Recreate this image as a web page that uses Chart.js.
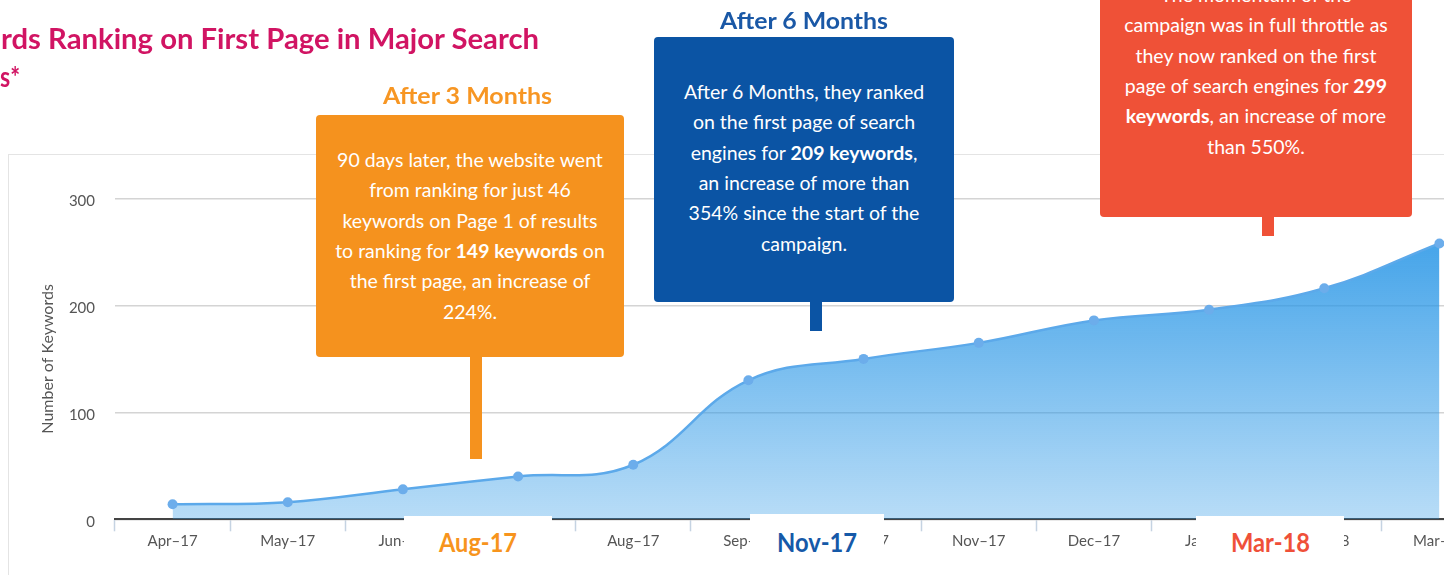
<!DOCTYPE html>
<html>
<head>
<meta charset="utf-8">
<script src="https://cdn.jsdelivr.net/npm/chart.js@4.4.1/dist/chart.umd.min.js"></script>
<style>
  html, body { margin: 0; padding: 0; background: #fff; }
  body { width: 1444px; height: 575px; overflow: hidden; position: relative; font-family: Lato, 'Open Sans', sans-serif; }
  .panel { position: absolute; left: 8px; top: 154px; width: 1600px; height: 600px; border: 1.5px solid #e4e4e4; box-sizing: border-box; }
  .wrap { position: absolute; left: 0; top: 0; width: 1502px; height: 575px; }
  .fit { position: absolute; white-space: nowrap; font-weight: 700; line-height: 1.2; transform-origin: 0 0; }
  .title { color: #d11463; font-size: 28px; }
  .head { font-size: 23px; }
  .box { position: absolute; color: #fff; font-size: 19.5px; line-height: 30.4px; text-align: center; border-radius: 4px; box-sizing: border-box; white-space: nowrap; }
  .box b { font-weight: 700; }
  .stem { position: absolute; width: 12px; }
  .tag { position: absolute; background: #fff; height: 80px; }
  .lbl { font-size: 26px; }
</style>
</head>
<body>
<div class="panel"></div>
<div class="wrap"><canvas id="chart"></canvas></div>

<div class="fit title" style="top:22.4px" data-x1="1" data-x2="539">rds Ranking on First Page in Major Search</div>
<div class="fit title" style="top:60.4px" data-x1="0" data-x2="20">s*</div>

<!-- after 3 months -->
<div class="fit head" style="top:82.3px;color:#f79623" data-x1="383" data-x2="552">After 3 Months</div>
<div class="box" style="left:316px;top:115px;width:308px;height:242px;background:#f5921e;padding-top:29.8px">
  90 days later, the website went<br>from ranking for just 46<br>keywords on Page 1 of results<br>to ranking for <b>149 keywords</b> on<br>the first page, an increase of<br>224%.
</div>
<div class="stem" style="left:470px;top:357px;height:102px;background:#f5921e"></div>

<!-- after 6 months -->
<div class="fit head" style="top:6.8px;color:#1a58a6" data-x1="720" data-x2="888">After 6 Months</div>
<div class="box" style="left:654px;top:37px;width:300px;height:265px;background:#0b54a4;padding-top:39.8px">
  After 6 Months, they ranked<br>on the first page of search<br>engines for <b>209 keywords</b>,<br>an increase of more than<br>354% since the start of the<br>campaign.
</div>
<div class="stem" style="left:810px;top:302px;height:29px;background:#0b54a4"></div>

<!-- later -->
<div class="box" style="left:1100px;top:-40px;width:312px;height:257px;background:#ef5137;padding-top:19.8px">
  The momentum of the<br>campaign was in full throttle as<br>they now ranked on the first<br>page of search engines for <b>299</b><br><b>keywords</b>, an increase of more<br>than 550%.
</div>
<div class="stem" style="left:1262px;top:217px;height:19px;background:#ef5137"></div>

<!-- bottom tags -->
<div class="tag" style="left:404px;top:516px;width:148px"></div>
<div class="tag" style="left:750px;top:514px;width:134px"></div>
<div class="tag" style="left:1196px;top:516px;width:148px"></div>
<div class="fit lbl" style="top:527.3px;color:#f7941d" data-x1="439" data-x2="517">Aug-17</div>
<div class="fit lbl" style="top:527.3px;color:#1559a8" data-x1="777" data-x2="857">Nov-17</div>
<div class="fit lbl" style="top:527.3px;color:#ef5039" data-x1="1231" data-x2="1310">Mar-18</div>

<script>
const months = ['Apr–17', 'May–17', 'Jun–17', 'Jul–17', 'Aug–17', 'Sep–17',
                'Oct–17', 'Nov–17', 'Dec–17', 'Jan–18', 'Feb–18', 'Mar–18'];
const keywords = [14, 16, 28, 40, 51, 130, 150, 165, 186, 196, 216, 258];
const yMin = 0;
const yMax = 300;
const yStep = 100;

// squeeze the headline texts to the widths seen in the picture
function fitText() {
  document.querySelectorAll('[data-x1]').forEach(el => {
    const x1 = +el.dataset.x1, x2 = +el.dataset.x2;
    el.style.left = x1 + 'px';
    const w = el.getBoundingClientRect().width;
    el.style.transform = 'scaleX(' + ((x2 - x1) / w) + ')';
  });
}
fitText();

const font = { family: 'Lato', size: 15 };

new Chart(document.getElementById('chart').getContext('2d'), {
  type: 'line',
  data: {
    labels: months,
    datasets: [{
      data: keywords,
      fill: 'origin',
      tension: 0.4,
      borderColor: '#5ca9ea',
      borderWidth: 2.5,
      pointRadius: 5,
      pointBackgroundColor: '#6cadeb',
      pointBorderWidth: 0,
      backgroundColor: (c) => {
        const area = c.chart.chartArea;
        if (!area) return 'rgba(40,150,230,0.5)';
        const g = c.chart.ctx.createLinearGradient(0, area.top, 0, area.bottom);
        g.addColorStop(0, 'rgba(40,150,230,0.95)');
        g.addColorStop(1, 'rgba(40,150,230,0.33)');
        return g;
      }
    }]
  },
  options: {
    responsive: true,
    maintainAspectRatio: false,
    animation: false,
    layout: { padding: { top: 198.5, right: 1, left: 0, bottom: 0 } },
    plugins: { legend: { display: false }, tooltip: { enabled: false } },
    scales: {
      x: {
        offset: true,
        grid: { offset: true, drawOnChartArea: false, tickLength: 12, tickColor: '#c5d3e2', tickWidth: 1.5 },
        border: { color: '#444', width: 2 },
        ticks: { color: '#555', font: font, padding: 1, maxRotation: 0, autoSkip: false },
        afterFit: (s) => { s.height = 55.7; }
      },
      y: {
        min: yMin,
        max: yMax,
        ticks: { stepSize: yStep, color: '#555', font: { family: 'Lato', size: 15 }, padding: 20, labelOffset: 3 },
        grid: { color: '#d4d4d4', lineWidth: 1.5, drawTicks: false },
        border: { display: false },
        title: {
          display: true,
          text: 'Number of Keywords',
          color: '#555',
          font: { family: 'Lato', size: 16 },
          padding: { top: 38, bottom: 0 }
        },
        afterFit: (s) => { s.width = 115; }
      }
    }
  }
});
</script>
</body>
</html>
